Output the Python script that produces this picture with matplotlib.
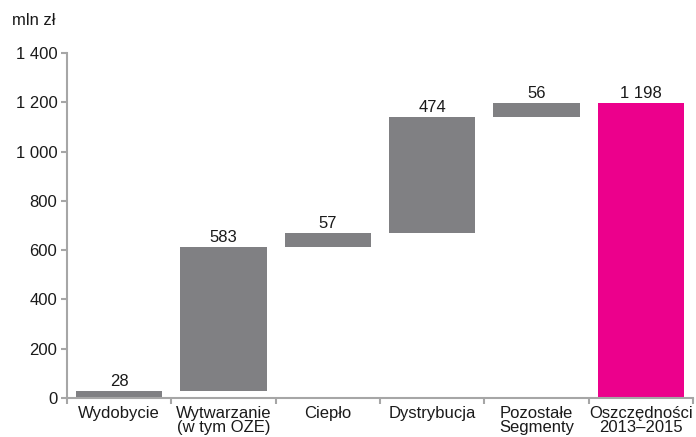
import numpy as np
import matplotlib.pyplot as plt

categories = ['Wydobycie', 'Wytwarzanie\n(w tym OZE)', 'Ciepło', 'Dystrybucja',
              'Pozostałe\nSegmenty', 'Oszczędności\n2013–2015']
values = [28, 583, 57, 474, 56]
total = 1198
value_labels = ['28', '583', '57', '474', '56', '1 198']
yticks = [0, 200, 400, 600, 800, 1000, 1200, 1400]
ytick_labels = ['0', '200', '400', '600', '800', '1 000', '1 200', '1 400']

plt.rcParams['font.family'] = ['Liberation Sans', 'DejaVu Sans']

fig = plt.figure(figsize=(6.96, 4.37), dpi=100)
ax = fig.add_axes([0.0963, 0.0892, 0.8994, 0.7895])

gray = '#808083'
pink = '#EC008C'
spine_col = '#A6A6A6'
fs = 12

bottoms = np.concatenate([[0], np.cumsum(values)[:-1]])
x = np.arange(len(categories))
ax.bar(x[:-1], values, bottom=bottoms, width=0.83, color=gray)
ax.bar(x[-1], total, width=0.83, color=pink)

tops = list(bottoms + np.array(values)) + [total]
for xi, top, lab in zip(x, tops, value_labels):
    ax.text(xi, top + 8, lab, ha='center', va='bottom', fontsize=fs, color='#1a1a1a')

ax.set_xlim(-0.5, len(categories) - 0.5)
ax.set_ylim(0, 1400)
ax.set_yticks(yticks)
ax.set_yticklabels(ytick_labels, fontsize=fs, color='#1a1a1a')
ax.set_xticks(x)
ax.set_xticklabels(categories, fontsize=fs, color='#1a1a1a', linespacing=0.88)
ax.tick_params(axis='x', which='major', length=0, pad=6)
ax.set_xticks(np.arange(len(categories) + 1) - 0.5, minor=True)
ax.tick_params(axis='x', which='minor', length=4, width=1.5, color=spine_col)
ax.tick_params(axis='y', length=4, width=1.5, color=spine_col, pad=3)

for s in ['top', 'right']:
    ax.spines[s].set_visible(False)
for s in ['left', 'bottom']:
    ax.spines[s].set_color(spine_col)
    ax.spines[s].set_linewidth(1.5)

fig.text(0.017, 0.953, 'mln zł', fontsize=fs, color='#1a1a1a', ha='left', va='center')

fig.savefig('out.png', dpi=100)
